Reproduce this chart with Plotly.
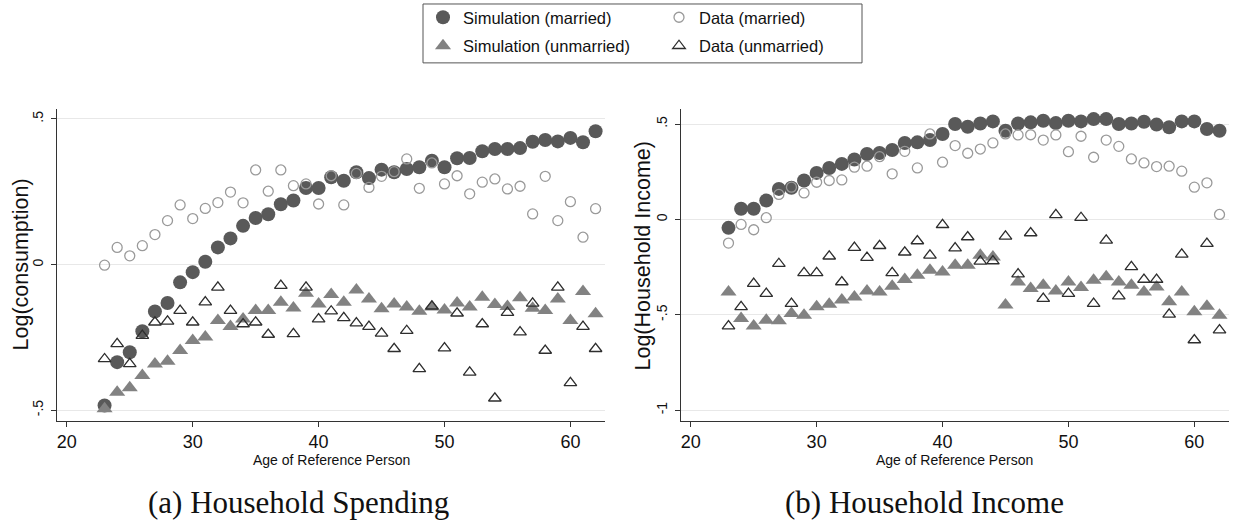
import plotly.graph_objects as go

ages = list(range(23, 63))

# Panel (a): Household Spending
spend_sim_married = [-0.484, -0.335, -0.301, -0.229, -0.161, -0.132, -0.061, -0.026, 0.010, 0.059,
                     0.090, 0.133, 0.160, 0.173, 0.207, 0.220, 0.263, 0.263, 0.300, 0.288,
                     0.317, 0.297, 0.326, 0.317, 0.328, 0.334, 0.357, 0.334, 0.365, 0.366,
                     0.389, 0.397, 0.397, 0.400, 0.422, 0.428, 0.423, 0.435, 0.420, 0.458]
spend_data_married = [-0.002, 0.059, 0.030, 0.065, 0.103, 0.151, 0.205, 0.158, 0.193, 0.213,
                      0.249, 0.212, 0.325, 0.252, 0.325, 0.271, 0.277, 0.208, 0.305, 0.205,
                      0.313, 0.265, 0.303, 0.319, 0.363, 0.262, 0.349, 0.277, 0.305, 0.243,
                      0.283, 0.294, 0.260, 0.269, 0.174, 0.303, 0.151, 0.216, 0.094, 0.192]
spend_sim_unmarried = [-0.495, -0.438, -0.423, -0.381, -0.341, -0.332, -0.295, -0.261, -0.249, -0.192,
                       -0.213, -0.187, -0.158, -0.158, -0.129, -0.149, -0.098, -0.135, -0.103, -0.129,
                       -0.087, -0.118, -0.152, -0.135, -0.146, -0.160, -0.146, -0.156, -0.132, -0.146,
                       -0.112, -0.137, -0.144, -0.114, -0.150, -0.158, -0.118, -0.192, -0.092, -0.169]
spend_data_unmarried = [-0.324, -0.272, -0.341, -0.244, -0.198, -0.195, -0.158, -0.198, -0.129, -0.078,
                        -0.158, -0.204, -0.198, -0.240, -0.072, -0.238, -0.078, -0.187, -0.160, -0.183,
                        -0.201, -0.213, -0.236, -0.289, -0.227, -0.358, -0.143, -0.287, -0.167, -0.370,
                        -0.204, -0.459, -0.165, -0.232, -0.133, -0.295, -0.078, -0.406, -0.213, -0.289]

# Panel (b): Household Income
inc_sim_married = [-0.044, 0.056, 0.056, 0.099, 0.160, 0.166, 0.204, 0.244, 0.270, 0.291,
                   0.314, 0.343, 0.348, 0.364, 0.401, 0.404, 0.416, 0.448, 0.500, 0.486,
                   0.503, 0.514, 0.465, 0.503, 0.509, 0.517, 0.505, 0.517, 0.514, 0.526,
                   0.526, 0.500, 0.503, 0.512, 0.497, 0.483, 0.514, 0.514, 0.474, 0.465]
inc_data_married = [-0.124, -0.026, -0.054, 0.009, 0.131, 0.169, 0.139, 0.195, 0.204, 0.207,
                    0.274, 0.279, 0.329, 0.239, 0.357, 0.270, 0.448, 0.300, 0.387, 0.347,
                    0.369, 0.401, 0.448, 0.443, 0.444, 0.416, 0.443, 0.355, 0.436, 0.326,
                    0.416, 0.383, 0.317, 0.296, 0.277, 0.279, 0.253, 0.169, 0.192, 0.026]
inc_sim_unmarried = [-0.380, -0.519, -0.559, -0.528, -0.531, -0.493, -0.502, -0.458, -0.444, -0.423,
                     -0.406, -0.375, -0.380, -0.350, -0.315, -0.293, -0.267, -0.275, -0.240, -0.240,
                     -0.188, -0.197, -0.449, -0.328, -0.362, -0.345, -0.375, -0.328, -0.357, -0.319,
                     -0.301, -0.328, -0.345, -0.380, -0.354, -0.432, -0.380, -0.484, -0.455, -0.502]
inc_data_unmarried = [-0.559, -0.458, -0.336, -0.389, -0.232, -0.441, -0.280, -0.280, -0.193, -0.328,
                      -0.148, -0.200, -0.138, -0.280, -0.172, -0.113, -0.188, -0.028, -0.150, -0.092,
                      -0.220, -0.218, -0.089, -0.287, -0.071, -0.415, 0.024, -0.389, 0.009, -0.441,
                      -0.110, -0.402, -0.249, -0.315, -0.315, -0.498, -0.183, -0.632, -0.127, -0.580]

x_ticks = [20, 30, 40, 50, 60]
y_ticks_a = [-0.5, 0, 0.5]
y_tick_labels_a = ["-.5", "0", ".5"]
y_ticks_b = [-1, -0.5, 0, 0.5]
y_tick_labels_b = ["-1", "-.5", "0", ".5"]

names = ["Simulation (married)", "Simulation (unmarried)", "Data (married)", "Data (unmarried)"]

SANS = "Liberation Sans, Arial, sans-serif"
SERIF = "Liberation Serif, Times New Roman, serif"
C_SIM_M = "#595959"
C_SIM_U = "#828282"
C_DAT_M = "#9a9a9a"
C_DAT_U = "#2e2e2e"

W, H = 1236, 523


def px_x(p):
    return p / W


def px_y(p):
    return 1 - p / H


def add_panel(fig, xa, ya, sm, su, dm, du, show):
    # legend row 1: married series; legend row 2: unmarried series
    fig.add_trace(go.Scatter(x=ages, y=sm, mode="markers", name=names[0], legend="legend",
                             showlegend=show, xaxis=xa, yaxis=ya,
                             marker=dict(symbol="circle", size=14, color=C_SIM_M, line=dict(width=0))))
    fig.add_trace(go.Scatter(x=ages, y=su, mode="markers", name=names[1], legend="legend2",
                             showlegend=show, xaxis=xa, yaxis=ya,
                             marker=dict(symbol="triangle-up", size=14, color=C_SIM_U, line=dict(width=0))))
    fig.add_trace(go.Scatter(x=ages, y=dm, mode="markers", name=names[2], legend="legend",
                             showlegend=show, xaxis=xa, yaxis=ya,
                             marker=dict(symbol="circle-open", size=10, color=C_DAT_M,
                                         line=dict(width=1.3, color=C_DAT_M))))
    fig.add_trace(go.Scatter(x=ages, y=du, mode="markers", name=names[3], legend="legend2",
                             showlegend=show, xaxis=xa, yaxis=ya,
                             marker=dict(symbol="triangle-up-open", size=11, color=C_DAT_U,
                                         line=dict(width=1.3, color=C_DAT_U))))


fig = go.Figure()
add_panel(fig, "x", "y", spend_sim_married, spend_sim_unmarried, spend_data_married, spend_data_unmarried, True)
add_panel(fig, "x2", "y2", inc_sim_married, inc_sim_unmarried, inc_data_married, inc_data_unmarried, False)

xcommon = dict(range=[19.2, 62.75], tickvals=x_ticks, ticks="outside", ticklen=5, tickcolor="#333",
               showgrid=False, zeroline=False, showline=True, linecolor="#333", linewidth=1.2,
               tickfont=dict(family=SANS, size=18, color="#111"))
ycommon = dict(ticks="outside", ticklen=5, tickcolor="#333", tickangle=-90,
               showgrid=True, gridcolor="#e8e8e8", gridwidth=1, zeroline=False,
               showline=True, linecolor="#333", linewidth=1.2,
               tickfont=dict(family=SANS, size=14, color="#111"), ticklabelstandoff=2)

legend_common = dict(orientation="h", traceorder="normal", x=px_x(423), xanchor="left", yanchor="middle",
                     borderwidth=0, bgcolor="rgba(0,0,0,0)", entrywidth=191, entrywidthmode="pixels",
                     font=dict(family=SANS, size=16.5, color="#111"))

fig.update_layout(
    width=W, height=H,
    margin=dict(l=0, r=0, t=0, b=0),
    paper_bgcolor="white", plot_bgcolor="white",
    xaxis=dict(domain=[0.0459, 0.4895], anchor="y", **xcommon),
    yaxis=dict(domain=[0.196, 0.7935], anchor="x", range=[-0.536, 0.535],
               tickvals=y_ticks_a, ticktext=y_tick_labels_a, **ycommon),
    xaxis2=dict(domain=[0.5507, 0.9943], anchor="y2", **xcommon),
    yaxis2=dict(domain=[0.196, 0.7935], anchor="x2", range=[-1.055, 0.58],
                tickvals=y_ticks_b, ticktext=y_tick_labels_b, **ycommon),
    legend=dict(y=px_y(17), **legend_common),
    legend2=dict(y=px_y(46), **legend_common),
    showlegend=True,
)

# legend frame
fig.add_shape(type="rect", xref="paper", yref="paper",
              x0=px_x(423), x1=px_x(862), y0=px_y(62), y1=px_y(3),
              line=dict(color="#555", width=1), fillcolor="rgba(0,0,0,0)", layer="below")

annots = [
    dict(text="Age of Reference Person", x=0.2678, y=px_y(460), xref="paper", yref="paper",
         showarrow=False, xanchor="center", yanchor="middle", font=dict(family=SANS, size=14, color="#111")),
    dict(text="Age of Reference Person", x=0.7725, y=px_y(460), xref="paper", yref="paper",
         showarrow=False, xanchor="center", yanchor="middle", font=dict(family=SANS, size=14, color="#111")),
    dict(text="Log(consumption)", x=px_x(21), y=px_y(264), xref="paper", yref="paper",
         showarrow=False, textangle=-90, xanchor="center", yanchor="middle",
         font=dict(family=SANS, size=21.5, color="#111")),
    dict(text="Log(Household Income)", x=px_x(643), y=px_y(256), xref="paper", yref="paper",
         showarrow=False, textangle=-90, xanchor="center", yanchor="middle",
         font=dict(family=SANS, size=21.5, color="#111")),
    dict(text="(a) Household Spending", x=px_x(298), y=px_y(502), xref="paper", yref="paper",
         showarrow=False, xanchor="center", yanchor="middle",
         font=dict(family=SERIF, size=31, color="#111")),
    dict(text="(b) Household Income", x=px_x(924), y=px_y(502), xref="paper", yref="paper",
         showarrow=False, xanchor="center", yanchor="middle",
         font=dict(family=SERIF, size=31, color="#111")),
]
fig.update_layout(annotations=annots)

fig.write_html("out.html",
               config={"displayModeBar": False},
               post_script="document.body.style.margin='0';document.body.style.overflow='hidden';")
